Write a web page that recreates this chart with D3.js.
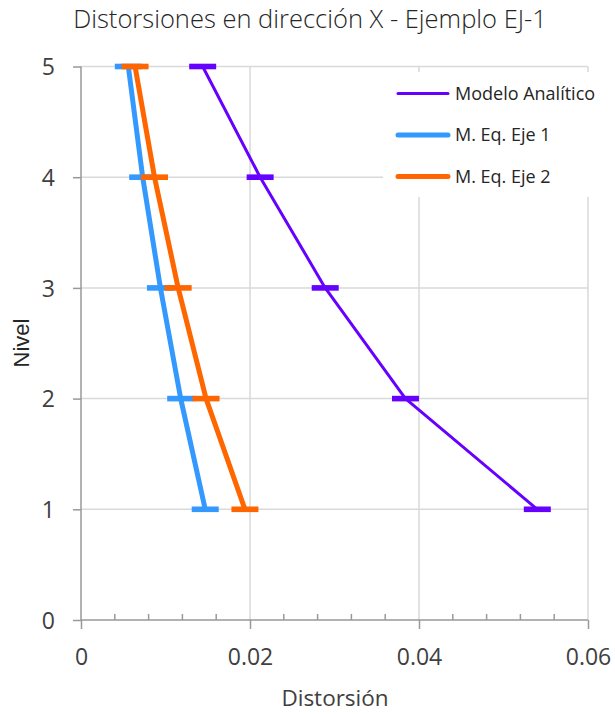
<!DOCTYPE html>
<html><head><meta charset="utf-8">
<script src="https://cdn.jsdelivr.net/npm/d3@7"></script>
<style>
html,body{margin:0;padding:0;background:#fff;}
text{font-family:"Open Sans",sans-serif;}
</style></head>
<body><svg id="c" width="615" height="714"></svg>
<script>
const niveles = [1, 2, 3, 4, 5];
const modeloAnalitico = [0.0540, 0.0384, 0.0289, 0.0212, 0.0144];
const ejeEq1 = [0.0147, 0.0118, 0.0094, 0.0073, 0.0056];
const ejeEq2 = [0.0194, 0.0148, 0.0115, 0.0087, 0.0064];
const seriesNames = ["Modelo Analítico", "M. Eq. Eje 1", "M. Eq. Eje 2"];
const seriesColors = ["#6600ff", "#3399ff", "#ff6600"];
const xTicks = [0, 0.02, 0.04, 0.06];
const yTicks = [0, 1, 2, 3, 4, 5];
const titleText = "Distorsiones en dirección X - Ejemplo EJ-1";

const svg = d3.select("#c");
const x = d3.scaleLinear().domain([0, 0.06]).range([81, 588]);
const y = d3.scaleLinear().domain([0, 5]).range([620, 66.5]);

// gridlines
const grid = svg.append("g");
grid.selectAll(".gx").data(xTicks.slice(1)).join("line")
  .attr("x1", d => x(d)).attr("x2", d => x(d)).attr("y1", y(0)).attr("y2", y(5))
  .attr("stroke", "#d9d9d9").attr("stroke-width", 1.5);
grid.selectAll(".gy").data(yTicks.slice(1)).join("line")
  .attr("x1", x(0)).attr("x2", x(0.06)).attr("y1", d => y(d)).attr("y2", d => y(d))
  .attr("stroke", "#d9d9d9").attr("stroke-width", 1.5);

// axes
const axisColor = "#999";
const xAxisG = svg.append("g").attr("transform", `translate(0,${y(0)})`)
  .call(d3.axisBottom(x).tickValues(xTicks).tickFormat(d => d === 0 ? "0" : d3.format(".2f")(d)).tickSize(9).tickPadding(20));
const minor = d3.range(0, 0.0601, 0.004).filter(v => Math.abs(v / 0.02 - Math.round(v / 0.02)) > 1e-6);
svg.append("g").selectAll("line").data(minor).join("line")
  .attr("x1", d => x(d)).attr("x2", d => x(d)).attr("y1", y(0)).attr("y2", y(0) - 6)
  .attr("stroke", axisColor).attr("stroke-width", 1.5);
const yAxisG = svg.append("g").attr("transform", `translate(${x(0)},0)`)
  .call(d3.axisLeft(y).tickValues(yTicks).tickFormat(d3.format("d")).tickSize(8).tickPadding(18));
[xAxisG, yAxisG].forEach(g => {
  g.select(".domain").attr("stroke", axisColor).attr("stroke-width", 1.5);
  g.selectAll(".tick line").attr("stroke", axisColor).attr("stroke-width", 1.5);
  g.selectAll(".tick text").attr("fill", "#404040").style("font-size", "23px").style("font-family", '"Open Sans",sans-serif');
});
yAxisG.selectAll(".tick text").attr("dy", "0.36em");
xAxisG.select(".domain").attr("d", `M${x(0)},0H${x(0.06)}`);
yAxisG.select(".domain").attr("d", `M0,${y(0)}V${y(5)}`);

// series
const data = [modeloAnalitico, ejeEq1, ejeEq2];
const widths = [3, 5, 5];
const line = d3.line().x(d => x(d[0])).y(d => y(d[1]));
data.forEach((vals, i) => {
  const pts = vals.map((v, j) => [v, niveles[j]]);
  const g = svg.append("g");
  g.append("path").datum(pts).attr("d", line).attr("fill", "none")
    .attr("stroke", seriesColors[i]).attr("stroke-width", widths[i]).attr("stroke-linejoin", "round");
  g.selectAll("rect").data(pts).join("rect")
    .attr("x", d => x(d[0]) - 13.5).attr("y", d => y(d[1]) - 2.8)
    .attr("width", 27).attr("height", 5.6).attr("fill", seriesColors[i]);
});

// legend
const leg = svg.append("g");
leg.append("rect").attr("x", 383).attr("y", 72).attr("width", 225).attr("height", 125).attr("fill", "#fff");
const legY = [93.5, 135, 176.5];
seriesNames.forEach((n, i) => {
  leg.append("line").attr("x1", 398).attr("x2", 448).attr("y1", legY[i]).attr("y2", legY[i])
    .attr("stroke", seriesColors[i]).attr("stroke-width", widths[i]).attr("stroke-linecap", "round");
  leg.append("text").attr("x", 455).attr("y", legY[i]).attr("dy", "0.35em")
    .attr("fill", "#262626").style("font-size", "18px").text(n);
});

// titles
svg.append("text").attr("x", 310).attr("y", 28).attr("text-anchor", "middle")
  .attr("fill", "#262626").style("font-size", "25.5px").style("font-weight", 300).text(titleText);
svg.append("text").attr("x", 335).attr("y", 706).attr("text-anchor", "middle")
  .attr("fill", "#404040").style("font-size", "22.5px").text("Distorsión");
svg.append("text").attr("transform", "translate(29,343) rotate(-90)").attr("text-anchor", "middle")
  .attr("fill", "#262626").style("font-size", "22px").style("font-family", '"Liberation Sans",Arial,sans-serif').text("Nivel");
</script></body></html>
